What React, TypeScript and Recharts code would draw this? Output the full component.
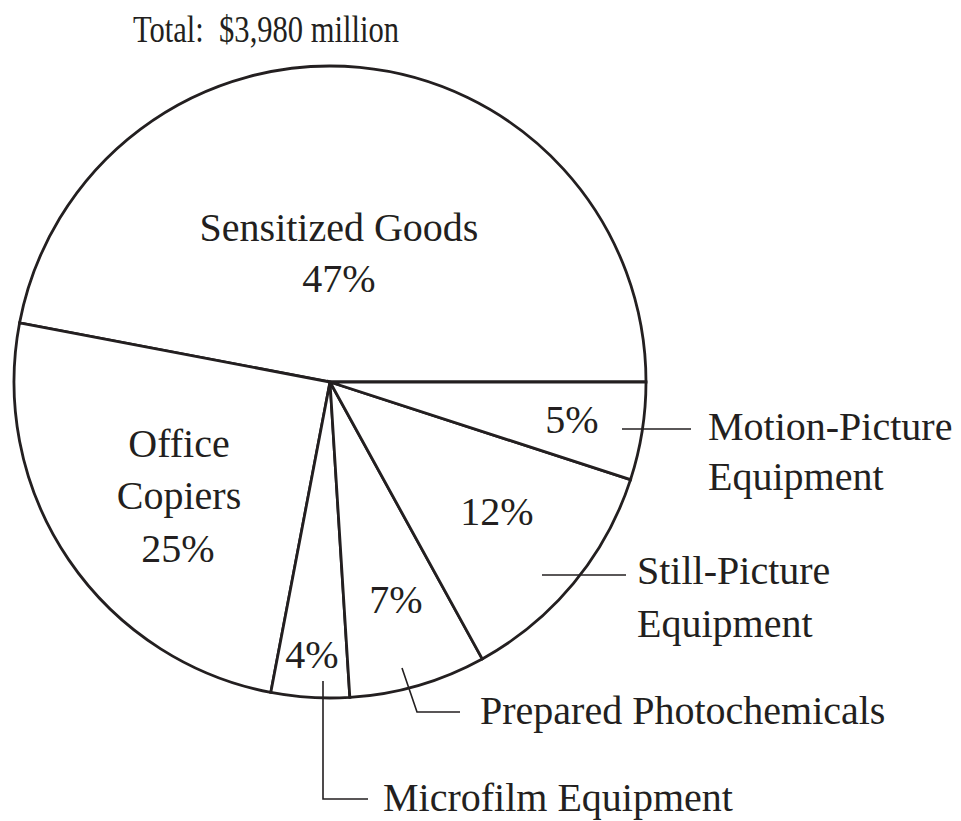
import { Pie, PieChart } from "recharts";

const categories = [
  "Sensitized Goods",
  "Office Copiers",
  "Microfilm Equipment",
  "Prepared Photochemicals",
  "Still-Picture Equipment",
  "Motion-Picture Equipment",
];
const shares = [47, 25, 4, 7, 12, 5];
const nameLines = [
  ["Sensitized Goods"],
  ["Office", "Copiers"],
  ["Microfilm Equipment"],
  ["Prepared Photochemicals"],
  ["Still-Picture", "Equipment"],
  ["Motion-Picture", "Equipment"],
];
const title = "Total:  $3,980 million";

const data = categories.map((name, i) => ({ name, value: shares[i] }));

const INK = "#231f20";
const FONT = "'Liberation Serif', 'DejaVu Serif', serif";

// offsets from the pie centre, in px
type Layout = {
  pct: [number, number];
  name: [number, number];
  nameAnchor: "start" | "middle";
  lineGap: number;
  leader?: [number, number][];
};
const layouts: Layout[] = [
  { pct: [9, -90], name: [9, -141], nameAnchor: "middle", lineGap: 51 },
  { pct: [-152, 180], name: [-151, 75], nameAnchor: "middle", lineGap: 52 },
  {
    pct: [-18, 286],
    name: [53, 429],
    nameAnchor: "start",
    lineGap: 51,
    leader: [[-7, 299], [-7, 417], [38, 417]],
  },
  {
    pct: [66, 231],
    name: [150, 342],
    nameAnchor: "start",
    lineGap: 51,
    leader: [[72, 286], [87, 330], [130, 330]],
  },
  {
    pct: [167, 143],
    name: [307, 202],
    nameAnchor: "start",
    lineGap: 53,
    leader: [[212, 193], [296, 193]],
  },
  {
    pct: [242, 51],
    name: [378, 58],
    nameAnchor: "start",
    lineGap: 50,
    leader: [[292, 47], [361, 47]],
  },
];

function renderLabel(props: any) {
  const { cx, cy, index } = props;
  const l = layouts[index];
  const lines = nameLines[index];
  const pctText = `${shares[index]}%`;
  const textStyle = { fontFamily: FONT, fontSize: 40, fill: INK };

  return (
    <g key={`lbl-${index}`}>
      {lines.map((line, k) => (
        <text
          key={k}
          x={cx + l.name[0]}
          y={cy + l.name[1] + k * l.lineGap}
          textAnchor={l.nameAnchor}
          style={textStyle}
        >
          {line}
        </text>
      ))}
      <text
        x={cx + l.pct[0]}
        y={cy + l.pct[1]}
        textAnchor="middle"
        style={textStyle}
      >
        {pctText}
      </text>
      {l.leader && (
        <polyline
          points={l.leader.map(([x, y]) => `${cx + x},${cy + y}`).join(" ")}
          fill="none"
          stroke={INK}
          strokeWidth={1.6}
        />
      )}
    </g>
  );
}

export default function App() {
  return (
    <div
      style={{
        position: "absolute",
        left: 0,
        top: 0,
        width: 961,
        height: 821,
        background: "#fff",
      }}
    >
      <PieChart width={961} height={821} margin={{ top: 0, right: 0, bottom: 0, left: 0 }}>
        <Pie
          data={data}
          dataKey="value"
          nameKey="name"
          cx={330}
          cy={382}
          outerRadius={316}
          startAngle={0}
          endAngle={360}
          fill="#ffffff"
          stroke={INK}
          strokeWidth={2.8}
          labelLine={false}
          label={renderLabel}
          isAnimationActive={false}
        />
      </PieChart>
      <svg
        width={961}
        height={821}
        style={{ position: "absolute", left: 0, top: 0, pointerEvents: "none" }}
      >
        <text
          x={133}
          y={42}
          textLength={266}
          lengthAdjust="spacingAndGlyphs"
          style={{ fontFamily: FONT, fontSize: 37, fill: INK, whiteSpace: "pre" }}
        >
          {title}
        </text>
      </svg>
    </div>
  );
}
